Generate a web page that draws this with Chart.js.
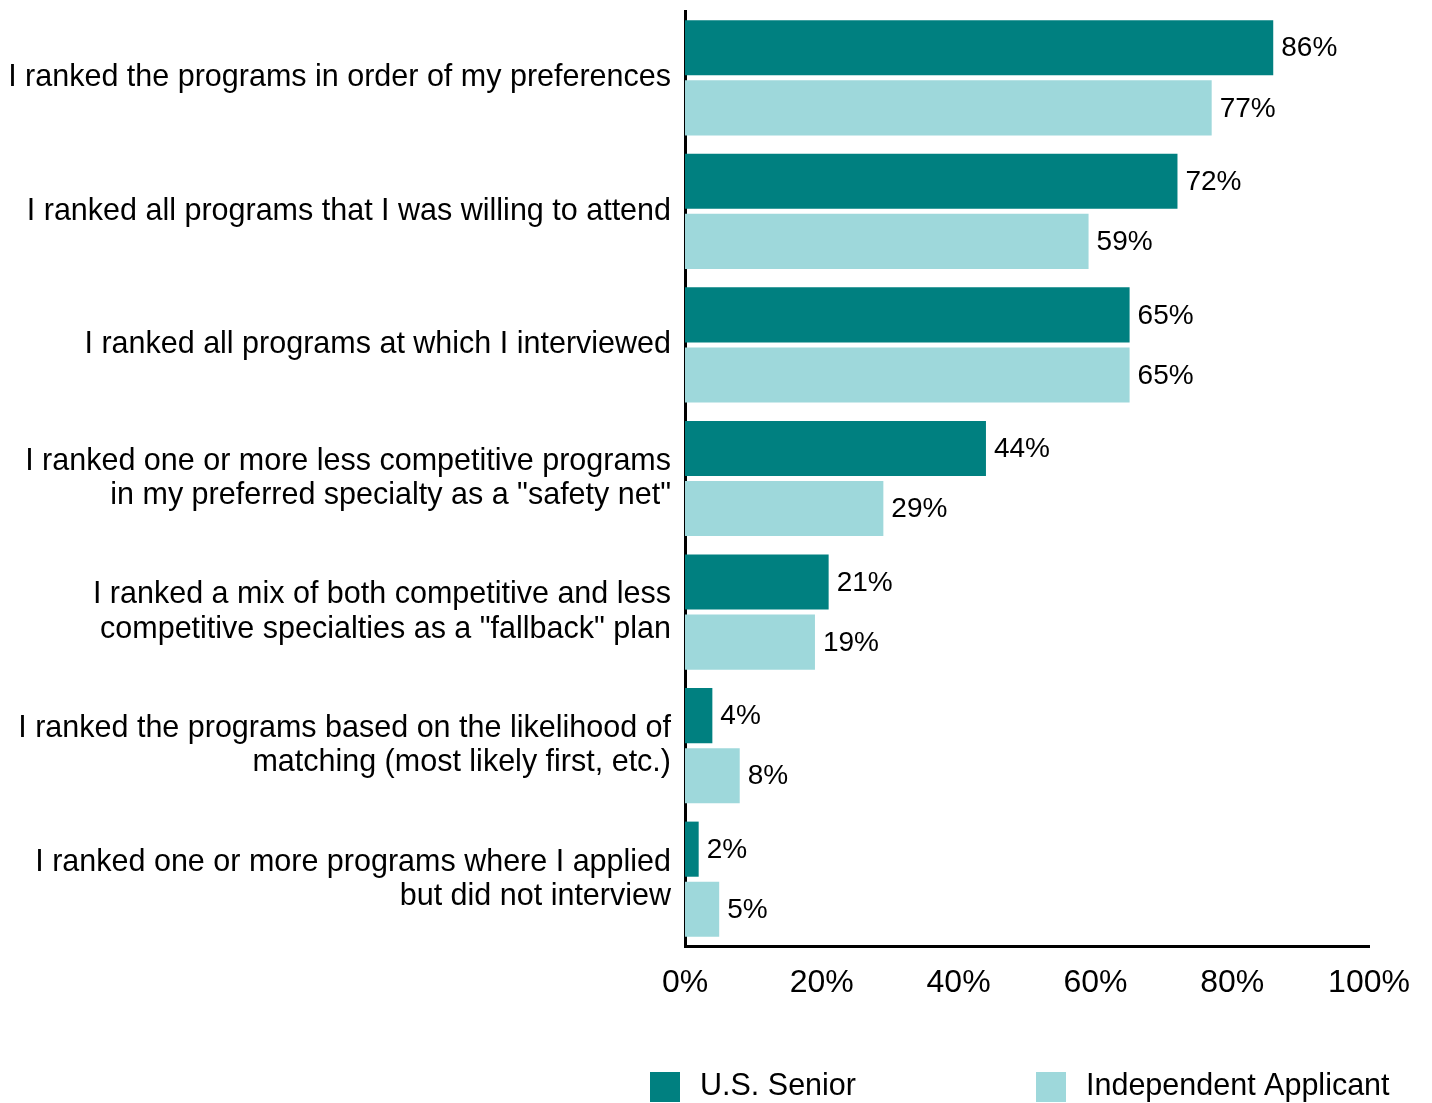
<!DOCTYPE html>
<html>
<head>
<meta charset="utf-8">
<script src="https://cdn.jsdelivr.net/npm/chart.js@4.4.0/dist/chart.umd.min.js"></script>
<style>
  html, body { margin: 0; padding: 0; background: #ffffff; }
  #wrap { width: 1432px; height: 1103px; position: relative; }
</style>
</head>
<body>
<div id="wrap"><canvas id="rankChart" width="1432" height="1103"></canvas></div>
<script>
// Chart data
const categories = [
    'I ranked the programs in order of my preferences',
    'I ranked all programs that I was willing to attend',
    'I ranked all programs at which I interviewed',
    ['I ranked one or more less competitive programs', 'in my preferred specialty as a "safety net"'],
    ['I ranked a mix of both competitive and less', 'competitive specialties as a "fallback" plan'],
    ['I ranked the programs based on the likelihood of', 'matching (most likely first, etc.)'],
    ['I ranked one or more programs where I applied', 'but did not interview']
];
const seniorValues = [86, 72, 65, 44, 21, 4, 2];
const independentValues = [77, 59, 65, 29, 19, 8, 5];
const seriesNames = ['U.S. Senior', 'Independent Applicant'];
const xTicks = [0, 20, 40, 60, 80, 100];

const FONT = '"Liberation Sans", Arial, sans-serif';
const DARK = '#008080';
const LIGHT = '#9ed8db';

// Value labels at the end of each bar
const valueLabels = {
    id: 'valueLabels',
    afterDatasetsDraw(chart) {
        const ctx = chart.ctx;
        ctx.save();
        ctx.font = '28px ' + FONT;
        ctx.fillStyle = '#000000';
        ctx.textAlign = 'left';
        ctx.textBaseline = 'middle';
        chart.data.datasets.forEach((ds, i) => {
            chart.getDatasetMeta(i).data.forEach((bar, j) => {
                ctx.fillText(ds.data[j] + '%', bar.x + 8, bar.y + 1);
            });
        });
        ctx.restore();
    }
};

// Legend drawn at the bottom
const bottomLegend = {
    id: 'bottomLegend',
    afterDraw(chart) {
        const ctx = chart.ctx;
        const starts = [650, 1036];
        ctx.save();
        ctx.font = '30.5px ' + FONT;
        ctx.textBaseline = 'middle';
        ctx.textAlign = 'left';
        chart.data.datasets.forEach((ds, i) => {
            ctx.fillStyle = ds.backgroundColor;
            ctx.fillRect(starts[i], 1072, 30, 30);
            ctx.fillStyle = '#000000';
            ctx.fillText(ds.label, starts[i] + 50, 1087);
        });
        ctx.restore();
    }
};

const chart = new Chart(document.getElementById('rankChart'), {
    type: 'bar',
    data: {
        labels: categories,
        datasets: [
            {
                label: seriesNames[0],
                data: seniorValues,
                backgroundColor: DARK,
                categoryPercentage: 0.9,
                barPercentage: 0.917
            },
            {
                label: seriesNames[1],
                data: independentValues,
                backgroundColor: LIGHT,
                categoryPercentage: 0.9,
                barPercentage: 0.917
            }
        ]
    },
    options: {
        indexAxis: 'y',
        responsive: false,
        animation: false,
        layout: { padding: { top: 11, right: 63, left: 0, bottom: 0 } },
        scales: {
            x: {
                min: 0,
                max: 100,
                afterBuildTicks(scale) {
                    scale.ticks = xTicks.map(v => ({ value: v }));
                },
                afterFit(scale) { scale.height = 157; },
                grid: { display: false, drawTicks: false },
                border: { display: true, color: '#000000', width: 3 },
                ticks: {
                    color: '#000000',
                    padding: 18,
                    maxRotation: 0,
                    font: { family: FONT, size: 32 },
                    callback: v => v + '%'
                }
            },
            y: {
                afterFit(scale) {
                    scale.width = 685;
                    scale.paddingTop = 0;
                    scale.paddingBottom = 0;
                },
                grid: { display: false, drawTicks: false },
                border: { display: true, color: '#000000', width: 3 },
                ticks: {
                    color: '#000000',
                    padding: 14,
                    font: { family: FONT, size: 30.5, lineHeight: 1.12 }
                }
            }
        },
        plugins: {
            legend: { display: false },
            tooltip: { enabled: false }
        }
    },
    plugins: [valueLabels, bottomLegend]
});
</script>
</body>
</html>
